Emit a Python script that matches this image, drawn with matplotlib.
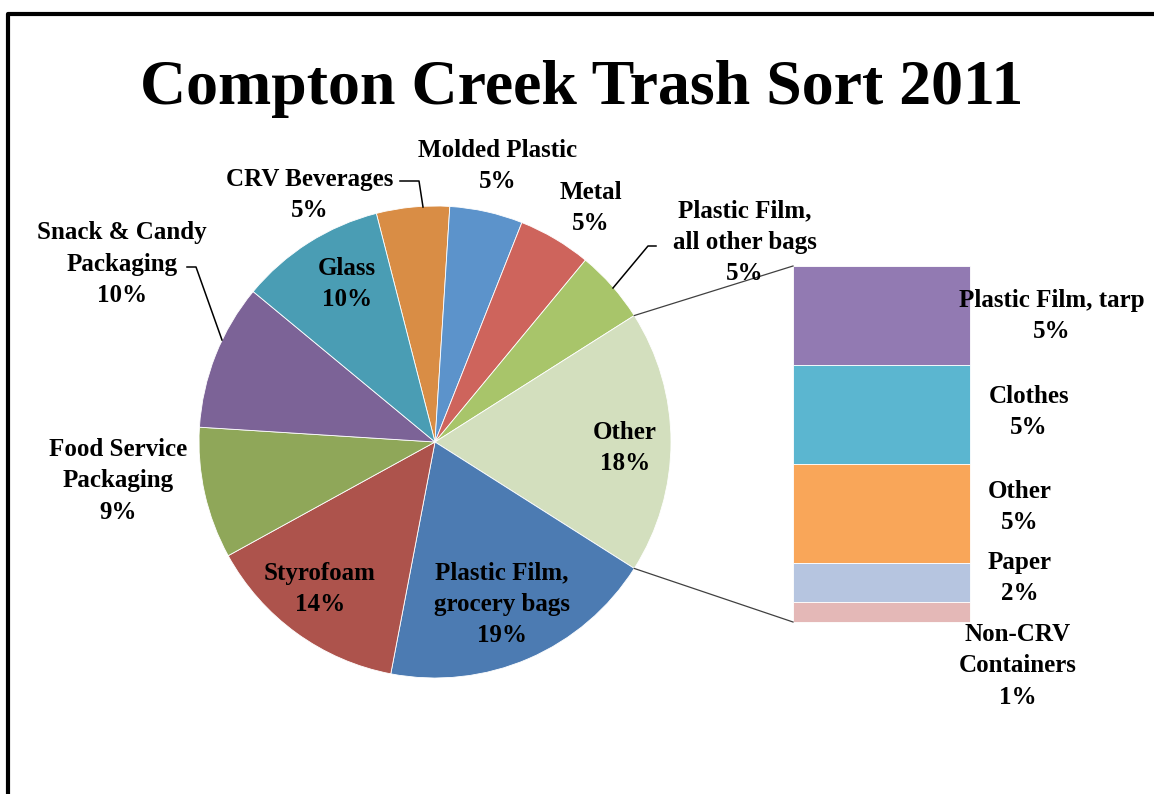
import numpy as np
import matplotlib
matplotlib.use("Agg")
import matplotlib.pyplot as plt

# pie slices, clockwise from the top
pie_labels = ["CRV Beverages", "Molded Plastic", "Metal", "Plastic Film,\nall other bags",
              "Other", "Plastic Film,\ngrocery bags", "Styrofoam",
              "Food Service\nPackaging", "Snack & Candy\nPackaging", "Glass"]
pie_values = [5, 5, 5, 5, 18, 19, 14, 9, 10, 10]
pie_colors = ["#D98D45", "#5C93CB", "#CE645C", "#A8C56A", "#D3DFBE",
              "#4C7BB2", "#AD534C", "#8FA759", "#7C6397", "#4A9DB4"]

# breakdown of "Other", top to bottom
bar_labels = ["Plastic Film, tarp", "Clothes", "Other", "Paper", "Non-CRV\nContainers"]
bar_values = [5, 5, 5, 2, 1]
bar_colors = ["#927AB2", "#5BB6D0", "#F9A659", "#B6C5E0", "#E4B8B7"]

W, H = 1154, 794
fig = plt.figure(figsize=(W / 100, H / 100), dpi=100)
ax = fig.add_axes([0, 0, 1, 1])

serif = ["Liberation Serif", "DejaVu Serif"]
font = dict(family=serif, fontweight="bold", fontsize=18, color="black",
            ha="center", va="center", linespacing=1.48)

# pie, with "Other" centred on 3 o'clock
cx, cy, r = 435, H - 442, 236
other_i = pie_labels.index("Other")
start = 360 * (sum(pie_values[:other_i]) + pie_values[other_i] / 2) / sum(pie_values)
ax.pie(pie_values, colors=pie_colors, startangle=start, counterclock=False,
       center=(cx, cy), radius=r, frame=True,
       wedgeprops=dict(edgecolor="white", linewidth=0.6))

# stacked bar for the "Other" breakdown
scale = 356 / sum(bar_values)
bar_x, bar_w, bar_bottom = 881.5, 177, H - 622
bottoms = bar_bottom + scale * (sum(bar_values) - np.cumsum(bar_values))
ax.bar([bar_x] * len(bar_values), [v * scale for v in bar_values], width=bar_w,
       bottom=bottoms, color=bar_colors, edgecolor="white", linewidth=0.6)

# lines joining the "Other" slice to the bar
half = np.radians(360 * pie_values[other_i] / sum(pie_values) / 2)
bar_top = bar_bottom + scale * sum(bar_values)
for a, by in [(half, bar_top), (-half, bar_bottom)]:
    ax.plot([cx + r * np.cos(a), bar_x - bar_w / 2], [cy + r * np.sin(a), by],
            color="#404040", lw=0.9)

# slice labels
pie_pos = [(310, 195), (498, 166), (591, 208), (745, 242), (625, 448),
           (502, 604), (320, 589), (118, 481), (122, 264), (347, 284)]
for name, v, (x, y) in zip(pie_labels, pie_values, pie_pos):
    ax.text(x, H - y, f"{name}\n{v}%", **font)

bar_pos = [(1052, 316), (1029, 412), (1020, 507), (1020, 578), (1018, 666)]
for name, v, (x, y) in zip(bar_labels, bar_values, bar_pos):
    ax.text(x, H - y, f"{name}\n{v}%", **font)

# leader lines
leaders = [
    [(400, 181), (419, 181), (423, 207)],
    [(187, 267), (196, 267), (222, 340)],
    [(656, 246), (648, 246), (613, 288)],
]
for pts in leaders:
    xs, ys = zip(*pts)
    ax.plot(xs, [H - y for y in ys], color="black", lw=1.1)

ax.text(582, H - 104, "Compton Creek Trash Sort 2011", family=serif,
        fontweight="bold", fontsize=46, ha="center", va="baseline")

# outer frame
ax.plot([7.5, 7.5, W], [0, H - 13.5, H - 13.5], color="black", lw=3,
        solid_capstyle="butt")

ax.set_xlim(0, W)
ax.set_ylim(0, H)
ax.set_aspect("equal")
ax.axis("off")

fig.savefig("out.png", dpi=100)
